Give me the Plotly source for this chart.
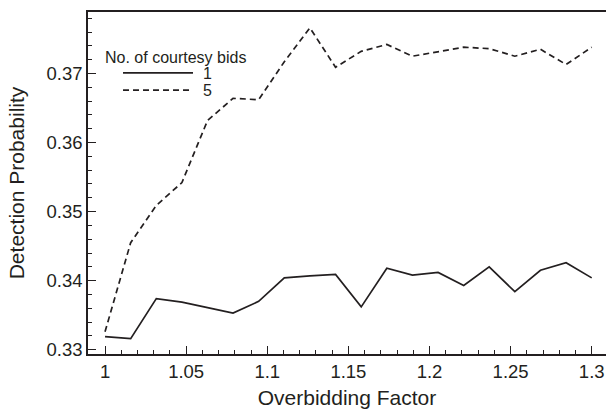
import plotly.graph_objects as go

# Overbidding factor (x) and detection probabilities for each number of courtesy bids
overbidding_factor = [1.0, 1.0158, 1.0316, 1.0474, 1.0632, 1.0789, 1.0947, 1.1105,
                      1.1263, 1.1421, 1.1579, 1.1737, 1.1895, 1.2053, 1.2211, 1.2368,
                      1.2526, 1.2684, 1.2842, 1.3]
detect_bids_1 = [0.3319, 0.3316, 0.3374, 0.3369, 0.3361, 0.3353, 0.3370, 0.3404,
                 0.3407, 0.3409, 0.3362, 0.3418, 0.3408, 0.3412, 0.3393, 0.3420,
                 0.3384, 0.3415, 0.3426, 0.3404]
detect_bids_5 = [0.3326, 0.3455, 0.3509, 0.3542, 0.3632, 0.3664, 0.3662, 0.3717,
                 0.3766, 0.3709, 0.3732, 0.3742, 0.3725, 0.3732, 0.3738, 0.3736,
                 0.3725, 0.3735, 0.3713, 0.3738]
courtesy_bids = ["1", "5"]
legend_title = "No. of courtesy bids"

INK = "#231f20"
FONT = "Liberation Sans, Arial, sans-serif"

fig = go.Figure()
series = [(detect_bids_1, "solid"), (detect_bids_5, "6px,4px")]
for (vals, dash), name in zip(series, courtesy_bids):
    fig.add_trace(go.Scatter(
        x=overbidding_factor, y=vals, mode="lines", name=name,
        line=dict(color=INK, width=1.7, dash=dash), showlegend=False,
    ))

# Hand-drawn legend block in the upper left of the plot area
x0, x1 = 0.0676, 0.2027
fig.add_annotation(x=0.029, y=0.868, xref="paper", yref="paper", text=legend_title,
                   showarrow=False, xanchor="left", yanchor="middle",
                   font=dict(family=FONT, size=16, color=INK))
for (vals, dash), name, yy in zip(series, courtesy_bids, [0.8219, 0.7715]):
    fig.add_shape(type="line", xref="paper", yref="paper", x0=x0, x1=x1, y0=yy, y1=yy,
                  line=dict(color=INK, width=1.7, dash=dash))
    fig.add_annotation(x=0.2185, y=yy - 0.002, xref="paper", yref="paper", text=name,
                       showarrow=False, xanchor="left", yanchor="middle",
                       font=dict(family=FONT, size=16, color=INK))

axis_common = dict(
    showline=True, linecolor=INK, linewidth=1.5, ticks="inside", tickcolor=INK,
    tickwidth=1.2, ticklen=8, showgrid=False, zeroline=False,
    tickfont=dict(family=FONT, size=18.5, color=INK),
    title_font=dict(family=FONT, size=21, color=INK),
)

fig.update_xaxes(
    range=[0.9895, 1.3088], tick0=1.0, dtick=0.05, tickformat="~g",
    minor=dict(dtick=0.01, ticklen=4, ticks="inside", tickcolor=INK, tickwidth=1.2),
    mirror=True, title_text="Overbidding Factor", title_standoff=10, **axis_common,
)
fig.update_yaxes(
    range=[0.32938, 0.3789], tick0=0.33, dtick=0.01, tickformat=".2f",
    minor=dict(dtick=0.002, ticklen=4, ticks="inside", tickcolor=INK, tickwidth=1.2),
    title_text="Detection Probability", title_standoff=16, **axis_common,
)

fig.update_layout(
    width=606, height=409,
    margin=dict(l=88, r=0, t=12, b=55),
    paper_bgcolor="white", plot_bgcolor="white",
    font=dict(family=FONT, color=INK),
)

fig.write_html("out.html")
